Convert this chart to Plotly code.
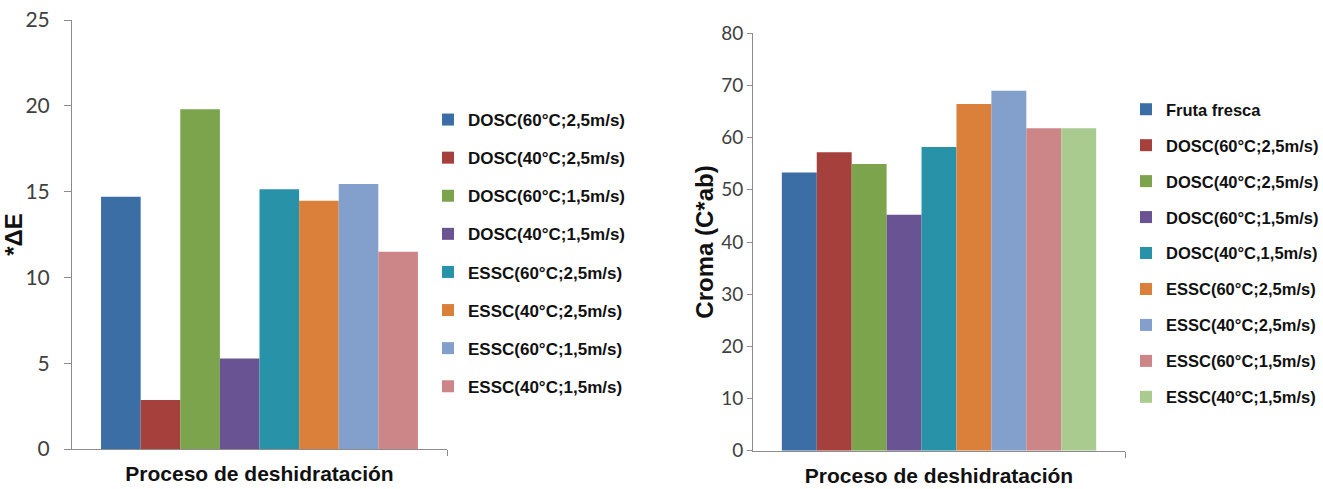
import plotly.graph_objects as go

# ---------------- data ----------------
category = [0]

left_names = ["DOSC(60°C;2,5m/s)", "DOSC(40°C;2,5m/s)", "DOSC(60°C;1,5m/s)", "DOSC(40°C;1,5m/s)",
              "ESSC(60°C;2,5m/s)", "ESSC(40°C;2,5m/s)", "ESSC(60°C;1,5m/s)", "ESSC(40°C;1,5m/s)"]
left_values = [14.7, 2.85, 19.8, 5.28, 15.13, 14.47, 15.44, 11.5]

right_names = ["Fruta fresca", "DOSC(60°C;2,5m/s)", "DOSC(40°C;2,5m/s)", "DOSC(60°C;1,5m/s)",
               "DOSC(40°C,1,5m/s)", "ESSC(60°C;2,5m/s)", "ESSC(40°C;2,5m/s)", "ESSC(60°C;1,5m/s)",
               "ESSC(40°C;1,5m/s)"]
right_values = [53.3, 57.2, 54.95, 45.2, 58.2, 66.45, 69.0, 61.8, 61.8]

left_colors = ["#3A6EA5", "#A5403D", "#7BA44C", "#6A5393", "#2893A8", "#DB803A", "#82A0CB", "#CC8687"]
right_colors = ["#3A6EA5", "#A5403D", "#7BA44C", "#6A5393", "#2893A8", "#DB803A", "#82A0CB", "#CC8687", "#A9CB8F"]

x_title = "Proceso de deshidratación"
left_y_title = "*ΔE"
right_y_title = "Croma (C*ab)"

# ---------------- layout helpers ----------------
W, H = 1323, 489


def px(sx):
    return sx / W


def py(sy):
    return (H - sy) / H


SANS = "Liberation Sans, Arial, sans-serif"
TICKFONT = "Lato, Calibri, Carlito, sans-serif"
AXCOL = "#8C8C8C"
TXT = "#111111"

fig = go.Figure()

for name, val, col in zip(left_names, left_values, left_colors):
    fig.add_trace(go.Bar(x=category, y=[val], name=name, marker=dict(color=col, line=dict(width=0)),
                         xaxis="x", yaxis="y", legend="legend", legendgroup="L" + name))

for name, val, col in zip(right_names, right_values, right_colors):
    fig.add_trace(go.Bar(x=category, y=[val], name=name, marker=dict(color=col, line=dict(width=0)),
                         xaxis="x2", yaxis="y2", legend="legend2", legendgroup="R" + name))

common_x = dict(range=[-0.5, 0.5], showline=True, linecolor=AXCOL, linewidth=1, ticks="outside",
                ticklen=6, tickcolor=AXCOL, tickvals=[0.5], showticklabels=False, showgrid=False,
                zeroline=False, fixedrange=True, automargin=False)
common_y = dict(showline=True, linecolor=AXCOL, linewidth=1, ticks="outside",
                tickcolor=AXCOL, showgrid=False, zeroline=False, fixedrange=True, automargin=False,
                ticklabeloverflow="allow")

fig.update_layout(
    width=W, height=H,
    margin=dict(l=0, r=0, t=0, b=0, autoexpand=False),
    paper_bgcolor="white", plot_bgcolor="white",
    barmode="group", bargap=0.155, bargroupgap=0,
    showlegend=True,
    xaxis=dict(domain=[px(72), px(447)], anchor="y",
               title=dict(text="<b>" + x_title + "</b>", font=dict(family=SANS, size=21, color=TXT),
                          standoff=11),
               **common_x),
    yaxis=dict(domain=[py(449), py(20)], anchor="x", range=[0, 25], dtick=5, ticklen=7,
               tickfont=dict(family=TICKFONT, size=21, color="#404040"), ticklabelstandoff=10,
               title=dict(text="<b>" + left_y_title + "</b>", font=dict(family=SANS, size=24, color=TXT),
                          standoff=3),
               **common_y),
    xaxis2=dict(domain=[px(753), px(1125)], anchor="y2",
                title=dict(text="<b>" + x_title + "</b>", font=dict(family=SANS, size=21, color=TXT),
                           standoff=11),
                **common_x),
    yaxis2=dict(domain=[py(450.7), py(33.3)], anchor="x2", range=[0, 80], dtick=10, ticklen=5,
                tickfont=dict(family=TICKFONT, size=19, color="#404040"), ticklabelstandoff=0,
                title=dict(text="<b>" + right_y_title + "</b>", font=dict(family=SANS, size=24, color=TXT),
                           standoff=0),
                **common_y),
    legend=dict(x=px(428), xanchor="left", y=py(102), yanchor="top", bgcolor="rgba(0,0,0,0)",
                font=dict(family=SANS, size=17, color=TXT, weight="bold"), tracegroupgap=13, itemwidth=30,
                borderwidth=0),
    legend2=dict(x=px(1126), xanchor="left", y=py(92), yanchor="top", bgcolor="rgba(0,0,0,0)",
                 font=dict(family=SANS, size=16.5, color=TXT, weight="bold"), tracegroupgap=11.5, itemwidth=30,
                 borderwidth=0),
)

# remove the browser's default page margin so the figure fills the window exactly
fig.write_html("out.html", config={"displayModeBar": False},
               post_script="document.body.style.margin='0';document.body.style.overflow='hidden';")
